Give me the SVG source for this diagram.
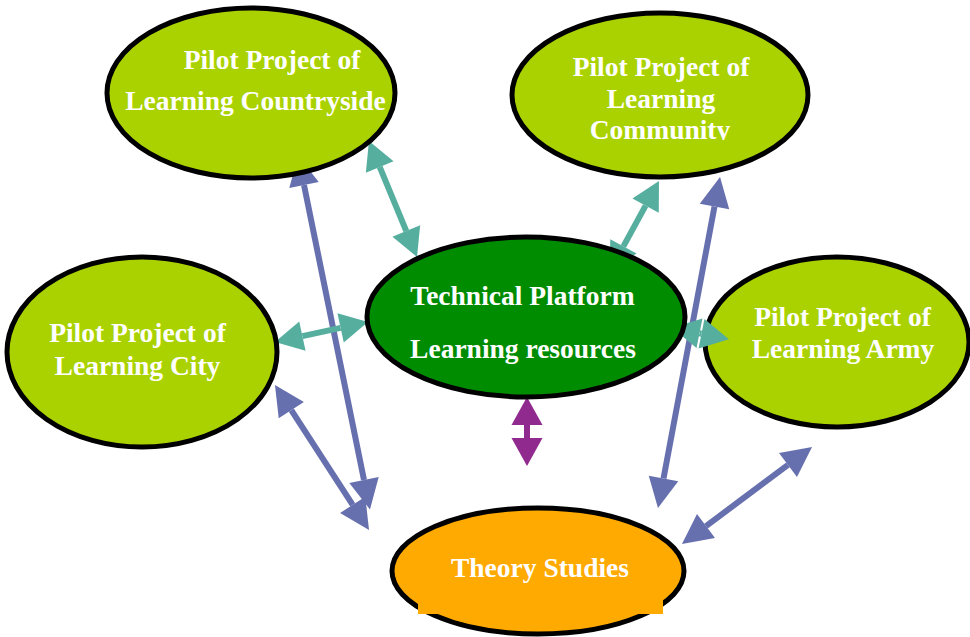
<svg xmlns="http://www.w3.org/2000/svg" width="970" height="637" viewBox="0 0 970 637">
  <style>
    .node { stroke: #000000; stroke-width: 5; }
    .lime { fill: #AAD200; }
    .dark { fill: #008C00; }
    .orange { fill: #FFAA00; }
    .label { font-family: "Liberation Serif", "Times New Roman", serif; font-weight: bold; font-size: 27.5px; fill: #FFFFFF; text-anchor: middle; }
    .teal { stroke: #56AE9F; stroke-width: 6; fill: none; marker-start: url(#headTeal); marker-end: url(#headTeal); }
    .blue { stroke: #6770AE; stroke-width: 6; fill: none; marker-start: url(#headBlue); marker-end: url(#headBlue); }
    .purple { stroke: #912A8E; stroke-width: 6; fill: none; marker-start: url(#headPurple); marker-end: url(#headPurple); }
  </style>
  <defs>
    <marker id="headTeal" markerUnits="userSpaceOnUse" markerWidth="30" markerHeight="32" refX="0" refY="15" orient="auto-start-reverse" overflow="visible">
      <path d="M0,0 L28,15 L0,30 Z" fill="#56AE9F"/>
    </marker>
    <marker id="headBlue" markerUnits="userSpaceOnUse" markerWidth="32" markerHeight="32" refX="0" refY="15" orient="auto-start-reverse" overflow="visible">
      <path d="M0,0 L30,15 L0,30 Z" fill="#6770AE"/>
    </marker>
    <marker id="headPurple" markerUnits="userSpaceOnUse" markerWidth="32" markerHeight="32" refX="0" refY="15.5" orient="auto-start-reverse" overflow="visible">
      <path d="M0,0 L28,15.5 L0,31 Z" fill="#912A8E"/>
    </marker>
    <clipPath id="communityClip">
      <rect x="500" y="0" width="320" height="140"/>
    </clipPath>
  </defs>

  <!-- the army node sits under the connectors; the short platform link overlaps its rim -->
  <g id="army">
    <ellipse class="node lime" cx="837" cy="342" rx="132" ry="85"/>
    <text class="label" x="842.5" y="326">Pilot Project of</text>
    <text class="label" x="843" y="358">Learning Army</text>
  </g>

  <!-- connectors, drawn beneath the remaining nodes -->
  <g id="connectors">
    <line class="blue" x1="304" y1="185" x2="364" y2="480"/>
    <line class="blue" x1="291.3" y1="410.2" x2="352.7" y2="504.8"/>
    <line class="blue" x1="714.5" y1="206.5" x2="663.5" y2="478.5"/>
    <line class="blue" x1="788" y1="464.9" x2="706" y2="526.1"/>
    <line class="teal" x1="379.7" y1="166.9" x2="406.3" y2="231.1"/>
    <line class="teal" x1="302.4" y1="336.1" x2="340.6" y2="327.9"/>
    <line class="teal" x1="623.4" y1="246.4" x2="645.6" y2="205.6"/>
    <line class="teal" x1="699.5" y1="333.3" x2="701.5" y2="333.7"/>
    <line class="purple" x1="527" y1="425" x2="527" y2="438"/>
  </g>

  <g id="countryside">
    <ellipse class="node lime" cx="251" cy="93" rx="144" ry="85"/>
    <text class="label" x="272" y="68.5">Pilot Project of</text>
    <text class="label" x="255.5" y="110">Learning Countryside</text>
  </g>

  <g id="community">
    <ellipse class="node lime" cx="660" cy="95" rx="148" ry="82"/>
    <g clip-path="url(#communityClip)">
      <text class="label" x="661" y="75.5">Pilot Project of</text>
      <text class="label" x="661" y="108">Learning</text>
      <text class="label" x="660" y="139">Community</text>
    </g>
  </g>

  <g id="city">
    <ellipse class="node lime" cx="142" cy="352" rx="135" ry="95"/>
    <text class="label" x="137.5" y="342">Pilot Project of</text>
    <text class="label" x="137.5" y="375">Learning City</text>
  </g>

  <g id="platform">
    <ellipse class="node dark" cx="526" cy="317" rx="159" ry="80"/>
    <text class="label" x="522.5" y="305">Technical Platform</text>
    <text class="label" x="523" y="358">Learning resources</text>
  </g>

  <g id="theory">
    <ellipse class="node orange" cx="538" cy="571" rx="146" ry="63"/>
    <rect class="orange" x="418" y="596" width="245" height="18"/>
    <text class="label" x="540" y="577">Theory Studies</text>
  </g>
</svg>
